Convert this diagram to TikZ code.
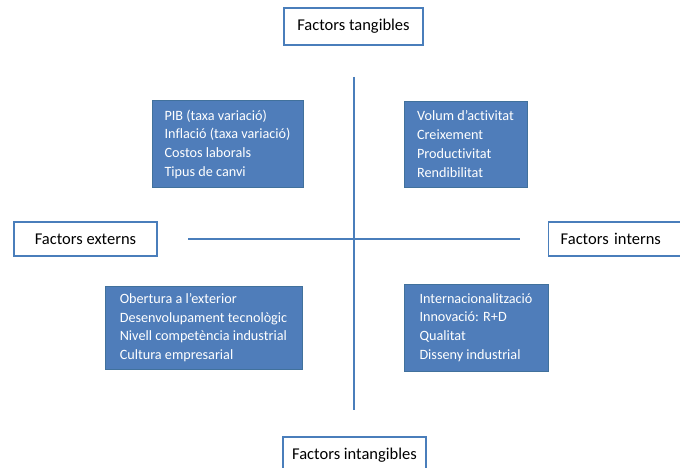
\documentclass[tikz,border=0pt]{standalone}
\usepackage{fontspec}
\setmainfont{Carlito}[Ligatures=NoCommon]
\usepackage{xcolor}

\definecolor{axisblue}{HTML}{4A7EBB}
\definecolor{boxfill}{HTML}{4F7DBA}
\definecolor{boxline}{HTML}{41719C}

\begin{document}
\begin{tikzpicture}[x=1pt,y=-1pt,
    factor/.style={draw=axisblue,line width=1.4pt,fill=white,minimum height=37,inner xsep=4,inner ysep=0,
        font=\fontsize{16.5}{20}\selectfont},
    quadrant/.style={draw=boxline,line width=0.8pt,fill=boxfill,text=white,align=left,inner sep=0,
        font=\fontsize{14.2}{18.7}\selectfont}]
    \useasboundingbox (0,0) rectangle (680,468);

                        % axes
                        \coordinate (vtop) at (354,77);
                        \coordinate (vbot) at (354,410);
                        \coordinate (hleft) at (188,239);
                        \coordinate (hright) at (520,239);
                    \draw[axisblue,line width=1.6pt] (vtop) -- (vbot) (hleft) -- (hright);

                        % labels of the axes
                        \node (tang) at (353.5,26.5) [factor,minimum width=139] {Factors tangibles};
                        \node (intang) at (354.5,455.5) [factor,minimum width=143] {Factors intangibles};
                        \node (ext) at (85.5,239) [factor,minimum width=143,minimum height=34] {Factors externs};
                        \node (int) at (548,239) [factor,anchor=west,minimum height=34,inner xsep=12,text width=125,align=left] {Factors interns};

                        % quadrants
                        \node (a) at (227.5,144) [quadrant,minimum width=151,minimum height=87] {PIB (taxa variació)\\Inflació (taxa variació)\\Costos laborals\\Tipus de canvi};
                        \node (b) at (465.5,144) [quadrant,minimum width=123,minimum height=86] {Volum d’activitat\\Creixement\\Productivitat\\Rendibilitat};
                        \node (c) at (203.5,327.5) [quadrant,minimum width=197,minimum height=83] {Obertura a l’exterior\\Desenvolupament tecnològic\\Nivell competència industrial\\Cultura empresarial};
                        \node (d) at (476,327.5) [quadrant,minimum width=144,minimum height=87] {Internacionalització\\Innovació: R+D\\Qualitat\\Disseny industrial};
                \end{tikzpicture}
\end{document}
